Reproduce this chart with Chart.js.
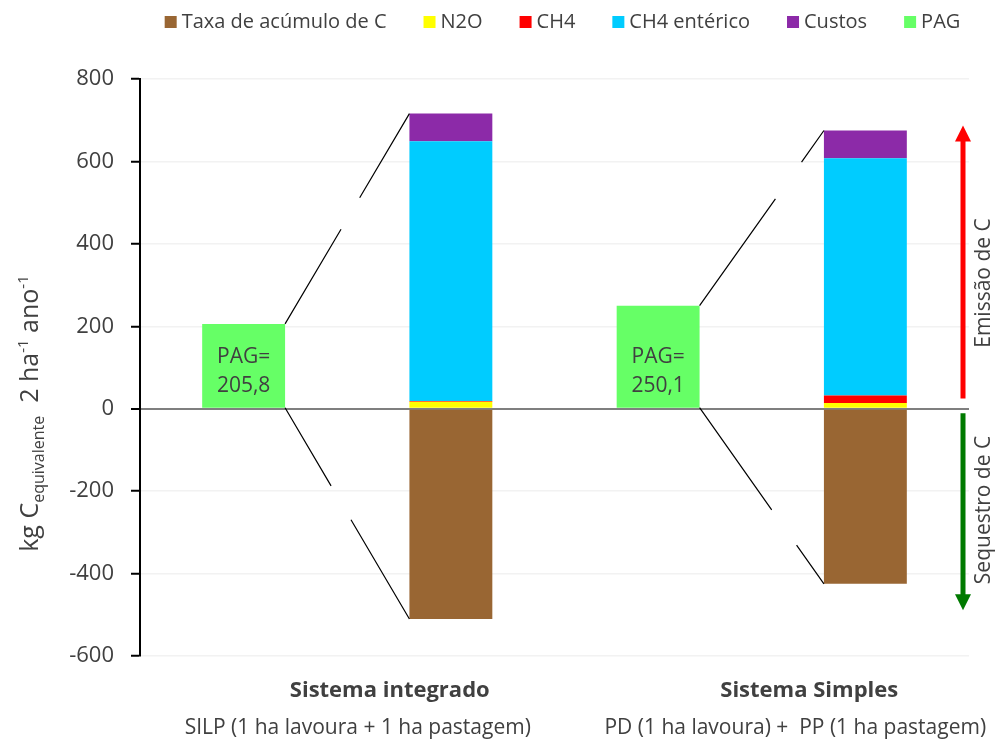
<!DOCTYPE html>
<html>
<head>
<meta charset="utf-8">
<script src="https://cdn.jsdelivr.net/npm/chart.js@4.4.1/dist/chart.umd.min.js"></script>
<style>
  body { margin: 0; background: #fff; }
  #wrap { width: 995px; height: 742px; position: relative; }
</style>
</head>
<body>
<div id="wrap"><canvas id="chart1"></canvas></div>
<script>
const categories = ["PAG integrado", "Sistema integrado", "PAG simples", "Sistema simples"];
const taxaAcumulo = [null, -510.2, null, -424.9];
const n2o = [null, 17, null, 13.6];
const ch4 = [null, 2, null, 18.7];
const ch4Enterico = [null, 630, null, 575.7];
const custos = [null, 67, null, 67];
const pag = [205.8, null, 250.1, null];
const yTicks = [-600, -400, -200, 0, 200, 400, 600, 800];
const groupTitles = ["Sistema integrado", "Sistema Simples"];
const groupSubtitles = ["SILP (1 ha lavoura + 1 ha pastagem)", "PD (1 ha lavoura) +  PP (1 ha pastagem)"];

const FONT = "'Open Sans', sans-serif";
const TXT = "#404040";

// legend drawn by hand to match spacing of the original
const legendRow = {
  id: "legendRow",
  afterDraw(chart) {
    const ctx = chart.ctx;
    const area = chart.chartArea;
    ctx.save();
    ctx.font = "20px " + FONT;
    ctx.textBaseline = "middle";
    const items = chart.data.datasets.map(d => ({ t: d.label, c: d.backgroundColor, w: ctx.measureText(d.label).width }));
    const box = 12, gapIn = 5, gapOut = 37;
    let total = 0;
    items.forEach((it, i) => { total += box + gapIn + it.w + (i ? gapOut : 0); });
    let x = (area.left + area.right) / 2 + 8 - total / 2;
    const yc = 22;
    items.forEach(it => {
      ctx.fillStyle = it.c;
      ctx.fillRect(x, yc - box / 2, box, box);
      x += box + gapIn;
      ctx.fillStyle = TXT;
      ctx.fillText(it.t, x, yc);
      x += it.w + gapOut;
    });
    ctx.restore();
  }
};

// connector lines from PAG bar to the stacked bar, with a gap in the middle
const connectors = {
  id: "connectors",
  afterDatasetsDraw(chart) {
    const ctx = chart.ctx;
    const pagMeta = chart.getDatasetMeta(5);
    const topMeta = chart.getDatasetMeta(4);
    const botMeta = chart.getDatasetMeta(0);
    const gaps = [
      { up: [0.45, 0.6], down: [0.37, 0.53] },
      { up: [0.61, 0.82], down: [0.58, 0.78] }
    ];
    [[0, 1], [2, 3]].forEach(([p, s], gi) => {
      const pb = pagMeta.data[p], tb = topMeta.data[s], bb = botMeta.data[s];
      const x0 = pb.x + pb.width / 2;
      const x1 = tb.x - tb.width / 2;
      const seg = (ax, ay, bx, by, g) => {
        ctx.beginPath();
        ctx.moveTo(ax, ay);
        ctx.lineTo(ax + (bx - ax) * g[0], ay + (by - ay) * g[0]);
        ctx.moveTo(ax + (bx - ax) * g[1], ay + (by - ay) * g[1]);
        ctx.lineTo(bx, by);
        ctx.stroke();
      };
      ctx.save();
      ctx.strokeStyle = "#000";
      ctx.lineWidth = 1.2;
      seg(x0, pb.y, x1, tb.y, gaps[gi].up);
      seg(x0, pb.base, x1, bb.y, gaps[gi].down);
      ctx.restore();

      // PAG value label
      ctx.save();
      ctx.fillStyle = TXT;
      ctx.font = "21px " + FONT;
      ctx.textAlign = "center";
      ctx.textBaseline = "middle";
      const v = pag[p].toFixed(1).replace(".", ",");
      ctx.fillText("PAG=", pb.x, pb.base - 51);
      ctx.fillText(v, pb.x, pb.base - 22);
      ctx.restore();
    });
  }
};

// axis title, group labels and side arrows
const extras = {
  id: "extras",
  afterDraw(chart) {
    const ctx = chart.ctx;
    const x = chart.scales.x, y = chart.scales.y;
    const area = chart.chartArea;

    // group labels under the axis
    ctx.save();
    ctx.fillStyle = TXT;
    ctx.textAlign = "center";
    ctx.textBaseline = "middle";
    const titleOff = [42.5, 47.5], subOff = [10.5, 33.5];
    [[0, 1], [2, 3]].forEach(([a, b], i) => {
      const mid = (x.getPixelForValue(a) + x.getPixelForValue(b)) / 2;
      ctx.font = "bold 22px " + FONT;
      ctx.fillText(groupTitles[i], mid + titleOff[i], area.bottom + 35);
      ctx.font = "21px " + FONT;
      ctx.fillText(groupSubtitles[i], mid + subOff[i], area.bottom + 72);
    });
    ctx.restore();

    // y axis title with sub/superscripts
    ctx.save();
    ctx.translate(30, (area.top + area.bottom) / 2 + 46);
    ctx.rotate(-Math.PI / 2);
    ctx.fillStyle = TXT;
    ctx.textBaseline = "alphabetic";
    const parts = [
      { t: "kg C", f: "25px", dy: 0 },
      { t: "equivalente", f: "16px", dy: 6 },
      { t: "  2 ha", f: "25px", dy: 0 },
      { t: "-1", f: "15px", dy: -10 },
      { t: " ano", f: "25px", dy: 0 },
      { t: "-1", f: "15px", dy: -10 }
    ];
    let w = 0;
    parts.forEach(p => { ctx.font = p.f + " " + FONT; p.w = ctx.measureText(p.t).width; w += p.w; });
    let cx = -w / 2;
    parts.forEach(p => {
      ctx.font = p.f + " " + FONT;
      ctx.fillText(p.t, cx, 8 + p.dy);
      cx += p.w;
    });
    ctx.restore();

    // emission / sequestration arrows
    const ax = area.right - 6;
    const arrow = (from, to, color) => {
      const y0 = y.getPixelForValue(from), y1 = y.getPixelForValue(to);
      const dir = y1 < y0 ? -1 : 1;
      ctx.save();
      ctx.strokeStyle = color;
      ctx.fillStyle = color;
      ctx.lineWidth = 5;
      ctx.beginPath();
      ctx.moveTo(ax, y0);
      ctx.lineTo(ax, y1 - dir * 14);
      ctx.stroke();
      ctx.beginPath();
      ctx.moveTo(ax, y1);
      ctx.lineTo(ax - 8, y1 - dir * 16);
      ctx.lineTo(ax + 8, y1 - dir * 16);
      ctx.closePath();
      ctx.fill();
      ctx.restore();
    };
    arrow(25, 687, "#FF0000");
    arrow(-11, -489, "#007A00");

    ctx.save();
    ctx.fillStyle = TXT;
    ctx.font = "21px " + FONT;
    ctx.textAlign = "center";
    ctx.textBaseline = "middle";
    [["Emissão de C", 283], ["Sequestro de C", 510]].forEach(([t, py]) => {
      ctx.save();
      ctx.translate(area.right + 15, py);
      ctx.rotate(-Math.PI / 2);
      ctx.fillText(t, 0, 0);
      ctx.restore();
    });
    ctx.restore();
  }
};

const ds = (label, data, color) => ({
  label, data, backgroundColor: color, borderWidth: 0,
  barPercentage: 0.4, categoryPercentage: 1, stack: "s"
});

new Chart(document.getElementById("chart1"), {
  type: "bar",
  data: {
    labels: categories,
    datasets: [
      ds("Taxa de acúmulo de C", taxaAcumulo, "#996633"),
      ds("N2O", n2o, "#FFFF00"),
      ds("CH4", ch4, "#FF0000"),
      ds("CH4 entérico", ch4Enterico, "#00CCFF"),
      ds("Custos", custos, "#8C2AA8"),
      ds("PAG", pag, "#66FF66")
    ]
  },
  options: {
    responsive: true,
    maintainAspectRatio: false,
    animation: false,
    layout: { padding: { left: 0, right: 26, top: 79, bottom: 0 } },
    plugins: {
      legend: { display: false },
      tooltip: { enabled: false }
    },
    scales: {
      x: {
        stacked: true,
        grid: { display: false },
        border: { display: false },
        ticks: { display: false },
        afterFit(s) { s.height = 86; }
      },
      y: {
        stacked: true,
        min: -600, max: 800,
        afterBuildTicks(s) { s.ticks = yTicks.map(v => ({ value: v })); },
        afterFit(s) { s.width = 140; },
        border: { color: "#000", width: 2 },
        grid: {
          color: c => c.tick && c.tick.value === 0 ? "#7F7F7F" : "#F2F2F2",
          lineWidth: c => c.tick && c.tick.value === 0 ? 2 : 1.5,
          tickColor: "#000", tickLength: 9, tickWidth: 2
        },
        ticks: { color: TXT, padding: 17, font: { family: FONT, size: 22 } }
      }
    }
  },
  plugins: [legendRow, connectors, extras]
});
</script>
</body>
</html>
